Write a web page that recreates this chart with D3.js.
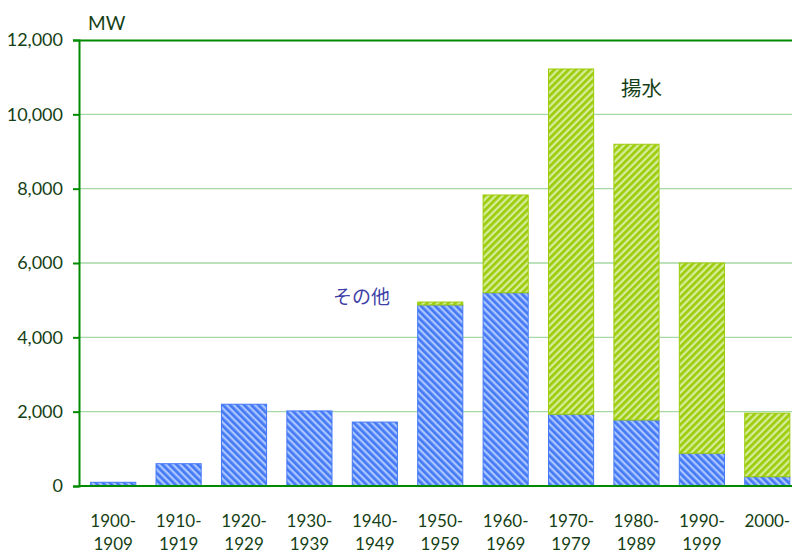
<!DOCTYPE html>
<html><head><meta charset="utf-8">
<script src="https://cdn.jsdelivr.net/npm/d3@7"></script>
<style>body{margin:0;background:#fff;} text{font-family:Lato,"Open Sans","Liberation Sans",sans-serif;}</style>
</head><body>
<svg id="c" width="792" height="553"></svg>
<script>
const categories = ["1900-1909","1910-1919","1920-1929","1930-1939","1940-1949","1950-1959","1960-1969","1970-1979","1980-1989","1990-1999","2000-"];
const otherValues = [100, 600, 2200, 2020, 1720, 4870, 5200, 1930, 1775, 880, 250];
const pumpedValues = [0, 0, 0, 0, 0, 80, 2630, 9290, 7420, 5120, 1710];
const yTicks = [0, 2000, 4000, 6000, 8000, 10000, 12000];
const seriesNames = ["その他", "揚水"];

const svg = d3.select("#c");
const defs = svg.append("defs");
function hatch(id, bg, fg, dir) {
  const p = defs.append("pattern").attr("id", id).attr("patternUnits", "userSpaceOnUse")
    .attr("width", 5).attr("height", 5)
    .attr("patternTransform", `rotate(${dir})`);
  p.append("rect").attr("width", 5).attr("height", 5).attr("fill", bg);
  p.append("rect").attr("width", 2.7).attr("height", 5).attr("fill", fg);
}
hatch("hBlue", "#a9c6ff", "#4478f5", -45);
hatch("hGreen", "#d6ec9a", "#9ccc0a", 45);

const x = d3.scaleBand().domain(categories).range([80.5, 800]).paddingInner(0.31).paddingOuter(0.155);
const y = d3.scaleLinear().domain([0, 12000]).range([486, 40]);

// gridlines
svg.append("g").selectAll("line").data(yTicks.filter(d => d > 0 && d < 12000)).join("line")
  .attr("x1", 79).attr("x2", 792).attr("y1", d => y(d)).attr("y2", d => y(d))
  .attr("stroke", "#a6d8a6").attr("stroke-width", 1.3);

// bars
const g = svg.append("g");
categories.forEach((c, i) => {
  const o = otherValues[i], p = pumpedValues[i];
  g.append("rect").attr("x", x(c)).attr("width", x.bandwidth())
    .attr("y", y(o)).attr("height", y(0) - y(o))
    .attr("fill", "url(#hBlue)").attr("stroke", "#4478f5").attr("stroke-width", 1);
  if (p > 0) {
    g.append("rect").attr("x", x(c)).attr("width", x.bandwidth())
      .attr("y", y(o + p)).attr("height", y(o) - y(o + p))
      .attr("fill", "url(#hGreen)").attr("stroke", "#9ccc0a").attr("stroke-width", 1);
  }
});

// y axis
const yAxis = d3.axisLeft(y).tickValues(yTicks).tickSize(6).tickPadding(10).tickFormat(d3.format(","));
const ya = svg.append("g").attr("transform", "translate(79,0)").call(yAxis);
ya.select(".domain").attr("stroke", "#008a00").attr("stroke-width", 2);
ya.selectAll(".tick line").attr("stroke", "#008a00").attr("stroke-width", 2);
ya.selectAll(".tick text").attr("fill", "#163f16").style("font-size", "18px").style("font-family", "Lato,sans-serif");
ya.select(".tick:last-of-type line").attr("x2", 713).attr("x1", -6);

// x axis
const xAxis = d3.axisBottom(x).tickSize(0).tickFormat("");
const xa = svg.append("g").attr("transform", "translate(0,486)").call(xAxis);
xa.select(".domain").attr("stroke", "#008a00").attr("stroke-width", 2).attr("d", "M79,0H792");
xa.selectAll(".tick").each(function(d) {
  const parts = d.split("-");
  const t = d3.select(this).append("text").attr("fill", "#163f16").attr("text-anchor", "middle")
    .style("font-size", "17px").style("font-family", "Lato,sans-serif");
  t.append("tspan").attr("x", 0).attr("y", 41).text(parts[0] + "-");
  if (parts[1]) t.append("tspan").attr("x", 0).attr("y", 64).text(parts[1]);
});

// unit label
svg.append("text").attr("x", 88).attr("y", 30).attr("fill", "#163f16").style("font-size", "19px").text("MW");

// series labels
svg.append("text").attr("x", 621).attr("y", 96).attr("fill", "#163f16")
  .style("font-size", "20.5px").style("font-family", "'Noto Sans CJK JP',sans-serif").text(seriesNames[1]);
svg.append("text").attr("x", 333).attr("y", 304).attr("fill", "#3f3fa8")
  .style("font-size", "19px").style("font-family", "'Noto Sans CJK JP',sans-serif").text(seriesNames[0]);
</script>
</body></html>
